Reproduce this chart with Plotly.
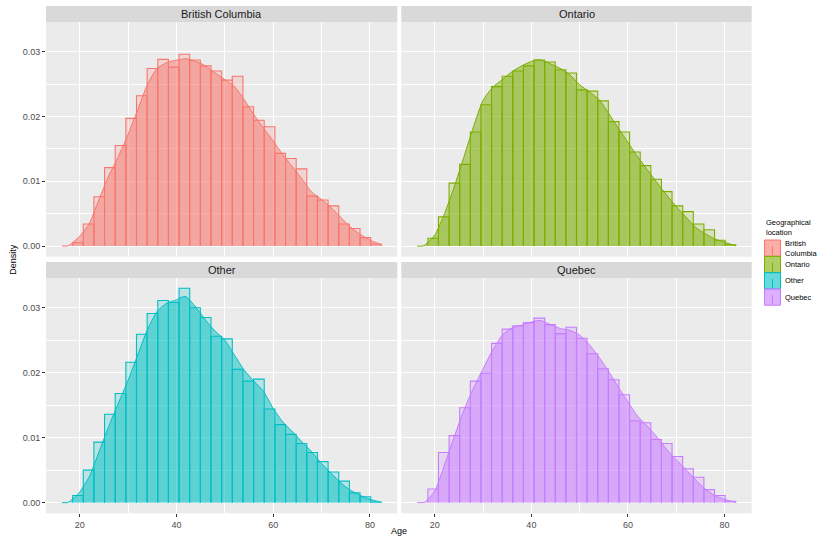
import numpy as np
import plotly.graph_objects as go

# ---- data -------------------------------------------------------------
LOCATIONS = ["British Columbia", "Ontario", "Other", "Quebec"]
LEGEND_LABELS = ["British<br>Columbia", "Ontario", "Other", "Quebec"]
COLORS = ["#F8766D", "#7CAE00", "#00BFC4", "#C77CFF"]

# histogram: 30 equal-width age bins
BIN_START = 16.35
BIN_WIDTH = 2.2

BC_HIST = [0, 0.0005, 0.0034, 0.0076, 0.0121, 0.0155, 0.0197, 0.0232, 0.0274, 0.0288,
           0.0276, 0.0296, 0.0287, 0.0278, 0.0270, 0.0256, 0.0262, 0.0215, 0.0194, 0.0184,
           0.0143, 0.0135, 0.0119, 0.0077, 0.0071, 0.0062, 0.0034, 0.0027, 0.0013, 0.0003]
ON_HIST = [0, 0.0012, 0.0045, 0.0097, 0.0126, 0.0176, 0.0218, 0.0246, 0.0262, 0.0270,
           0.0278, 0.0287, 0.0284, 0.0272, 0.0267, 0.0241, 0.0239, 0.0224, 0.0192, 0.0176,
           0.0145, 0.0124, 0.0103, 0.0084, 0.0062, 0.0053, 0.0034, 0.0025, 0.0009, 0.0002]
OTHER_HIST = [0, 0.0011, 0.0050, 0.0093, 0.0136, 0.0168, 0.0216, 0.0259, 0.0291, 0.0311,
              0.0308, 0.0330, 0.0300, 0.0285, 0.0256, 0.0252, 0.0205, 0.0187, 0.0190, 0.0144,
              0.0120, 0.0105, 0.0091, 0.0077, 0.0063, 0.0047, 0.0033, 0.0015, 0.0009, 0.0001]
QC_HIST = [0, 0.0021, 0.0077, 0.0103, 0.0146, 0.0187, 0.0199, 0.0245, 0.0267, 0.0272,
           0.0277, 0.0284, 0.0274, 0.0260, 0.0270, 0.0253, 0.0229, 0.0206, 0.0189, 0.0166,
           0.0126, 0.0123, 0.0097, 0.0091, 0.0071, 0.0052, 0.0039, 0.0020, 0.0011, 0.0002]

# kernel density estimates
DENS_AGES = [16.35, 17.5, 18, 20, 22, 24, 26, 28, 30, 32, 34, 36, 38, 40, 41, 42, 44, 46,
             48, 50, 52, 54, 56, 58, 60, 62, 64, 66, 68, 70, 72, 74, 76, 78, 80, 82, 82.35]
BC_DENS = [0, 0, 0.0002, 0.0015, 0.0035, 0.0072, 0.0108, 0.0138, 0.0172, 0.0210, 0.0249,
           0.0274, 0.0283, 0.0287, 0.0288, 0.0289, 0.0285, 0.0278, 0.0267, 0.0257, 0.0246,
           0.0226, 0.0203, 0.0182, 0.0162, 0.0141, 0.0122, 0.0103, 0.0083, 0.0072, 0.0059,
           0.0044, 0.0029, 0.0018, 0.0009, 0.0003, 0]
ON_DENS = [0, 0, 0.0002, 0.0017, 0.0050, 0.0091, 0.0137, 0.0184, 0.0225, 0.0245, 0.0257,
           0.0269, 0.0278, 0.0285, 0.0287, 0.0287, 0.0281, 0.0274, 0.0264, 0.0249, 0.0238,
           0.0226, 0.0205, 0.0182, 0.0160, 0.0138, 0.0118, 0.0098, 0.0079, 0.0061, 0.0045,
           0.0029, 0.0019, 0.0011, 0.0006, 0.0001, 0]
OTHER_DENS = [0, 0, 0.0002, 0.0016, 0.0040, 0.0078, 0.0117, 0.0153, 0.0188, 0.0227, 0.0266,
              0.0294, 0.0307, 0.0312, 0.0316, 0.0317, 0.0301, 0.0281, 0.0264, 0.0250, 0.0227,
              0.0204, 0.0187, 0.0171, 0.0145, 0.0124, 0.0109, 0.0093, 0.0078, 0.0060, 0.0045,
              0.0030, 0.0019, 0.0011, 0.0005, 0.0001, 0]
QC_DENS = [0, 0, 0.0001, 0.0018, 0.0058, 0.0101, 0.0142, 0.0176, 0.0206, 0.0235, 0.0258,
           0.0269, 0.0273, 0.0278, 0.0280, 0.0280, 0.0274, 0.0268, 0.0265, 0.0258, 0.0243,
           0.0224, 0.0202, 0.0178, 0.0155, 0.0133, 0.0118, 0.0101, 0.0082, 0.0066, 0.0051,
           0.0035, 0.0021, 0.0011, 0.0005, 0.0001, 0]

HISTS = [BC_HIST, ON_HIST, OTHER_HIST, QC_HIST]
DENSITIES = [BC_DENS, ON_DENS, OTHER_DENS, QC_DENS]

# ---- layout geometry (pixels) -----------------------------------------
W, H = 818, 540
COL_X = [(46.0, 397.3), (401.3, 751.7)]
ROW_Y = [(22.0, 256.7), (278.0, 513.3)]   # panel top, bottom
STRIP_H = 16.0
X_RANGE = [13.05, 85.65]
Y_RANGE = [-0.00165, 0.03457]
FONT = "Arial, Liberation Sans, sans-serif"


def px(x):
    return x / W


def py(y):
    return 1 - y / H


def rgba(hex_color, a):
    h = hex_color.lstrip("#")
    r, g, b = int(h[0:2], 16), int(h[2:4], 16), int(h[4:6], 16)
    return f"rgba({r},{g},{b},{a})"


def bar_outline(heights):
    """Open rectangle path (left side, top, right side) for each histogram bin."""
    xs, ys = [], []
    for k, h in enumerate(heights):
        if h <= 0:
            continue
        left = BIN_START + k * BIN_WIDTH
        right = left + BIN_WIDTH
        xs += [left, left, right, right, None]
        ys += [0, h, h, 0, None]
    return xs, ys


bin_centers = BIN_START + BIN_WIDTH * (np.arange(30) + 0.5)

fig = go.Figure()
shapes = []
annotations = []

for i, (loc, color) in enumerate(zip(LOCATIONS, COLORS)):
    row, col = divmod(i, 2)
    suffix = "" if i == 0 else str(i + 1)
    xref, yref = "x" + suffix, "y" + suffix

    # histogram fill
    fig.add_trace(go.Bar(
        x=bin_centers, y=HISTS[i], width=BIN_WIDTH,
        marker=dict(color=rgba(color, 0.2), line=dict(width=0)),
        xaxis=xref, yaxis=yref, showlegend=False, hoverinfo="skip",
    ))
    # histogram outlines
    ox, oy = bar_outline(HISTS[i])
    fig.add_trace(go.Scatter(
        x=ox, y=oy, mode="lines", line=dict(color=color, width=1.1),
        xaxis=xref, yaxis=yref, showlegend=False, hoverinfo="skip",
    ))
    # density curve
    fig.add_trace(go.Scatter(
        x=DENS_AGES, y=DENSITIES[i], mode="lines",
        line=dict(color=color, width=1, shape="spline", smoothing=0.6),
        fill="tozeroy", fillcolor=rgba(color, 0.5),
        xaxis=xref, yaxis=yref, showlegend=False, hoverinfo="skip",
    ))

    x0, x1 = COL_X[col]
    y0, y1 = ROW_Y[row]
    bottom = row == 1
    left = col == 0

    fig.layout["xaxis" + suffix] = dict(
        domain=[px(x0), px(x1)], anchor=yref, range=X_RANGE,
        tick0=0, dtick=20, showgrid=True, gridcolor="white", gridwidth=1.1,
        minor=dict(dtick=10, tick0=0, showgrid=True, gridcolor="white", gridwidth=0.5),
        zeroline=False, showline=False,
        showticklabels=bottom, ticks="outside" if bottom else "",
        ticklen=3, tickwidth=1, tickcolor="#333333",
        tickfont=dict(family=FONT, size=9, color="#4D4D4D"),
    )
    fig.layout["yaxis" + suffix] = dict(
        domain=[py(y1), py(y0)], anchor=xref, range=Y_RANGE,
        tick0=0, dtick=0.01, tickformat=".2f",
        showgrid=True, gridcolor="white", gridwidth=1.1,
        minor=dict(dtick=0.005, tick0=0, showgrid=True, gridcolor="white", gridwidth=0.5),
        zeroline=False, showline=False,
        showticklabels=left, ticks="outside" if left else "",
        ticklen=3, tickwidth=1, tickcolor="#333333",
        tickfont=dict(family=FONT, size=9, color="#4D4D4D"),
    )

    # facet strip
    shapes.append(dict(type="rect", xref="paper", yref="paper",
                       x0=px(x0), x1=px(x1), y0=py(y0), y1=py(y0 - STRIP_H),
                       fillcolor="#D9D9D9", line=dict(width=0), layer="below"))
    annotations.append(dict(xref="paper", yref="paper", x=px((x0 + x1) / 2),
                            y=py(y0 - STRIP_H / 2), text=loc, showarrow=False,
                            font=dict(family=FONT, size=11, color="#1A1A1A"),
                            xanchor="center", yanchor="middle"))

# axis titles
annotations.append(dict(xref="paper", yref="paper", x=px((COL_X[0][0] + COL_X[1][1]) / 2),
                        y=py(531), text="Age", showarrow=False,
                        font=dict(family=FONT, size=9, color="black"),
                        xanchor="center", yanchor="middle"))
annotations.append(dict(xref="paper", yref="paper", x=px(13), y=py((6 + 513.3) / 2),
                        text="Density", textangle=-90, showarrow=False,
                        font=dict(family=FONT, size=9, color="black"),
                        xanchor="center", yanchor="middle"))

# legend drawn as keys + labels
KEY_X0, KEY_X1 = 764.5, 780.5
KEY_TOP, KEY_H = 240.0, 16.3
annotations.append(dict(xref="paper", yref="paper", x=px(764), y=py(238.5),
                        text="Geographical<br>location", showarrow=False, align="left",
                        font=dict(family=FONT, size=7.5, color="black"),
                        xanchor="left", yanchor="bottom"))
for i, (lab, color) in enumerate(zip(LEGEND_LABELS, COLORS)):
    ky0 = KEY_TOP + i * KEY_H
    ky1 = ky0 + KEY_H
    shapes.append(dict(type="rect", xref="paper", yref="paper",
                       x0=px(KEY_X0), x1=px(KEY_X1), y0=py(ky1), y1=py(ky0),
                       fillcolor=rgba(color, 0.6), line=dict(color=color, width=1)))
    xm = (KEY_X0 + KEY_X1) / 2
    shapes.append(dict(type="line", xref="paper", yref="paper",
                       x0=px(xm), x1=px(xm), y0=py(ky1 - 1), y1=py(ky0 + 1),
                       line=dict(color=color, width=1, dash="dash")))
    annotations.append(dict(xref="paper", yref="paper", x=px(783), y=py((ky0 + ky1) / 2),
                            text=lab, showarrow=False, align="left",
                            font=dict(family=FONT, size=7.5, color="black"),
                            xanchor="left", yanchor="middle"))

fig.update_layout(
    width=W, height=H, autosize=False,
    margin=dict(l=0, r=0, t=0, b=0),
    paper_bgcolor="white", plot_bgcolor="#EBEBEB",
    barmode="overlay", bargap=0, showlegend=False,
    shapes=shapes, annotations=annotations,
    font=dict(family=FONT),
)

fig.write_html("out.html")
